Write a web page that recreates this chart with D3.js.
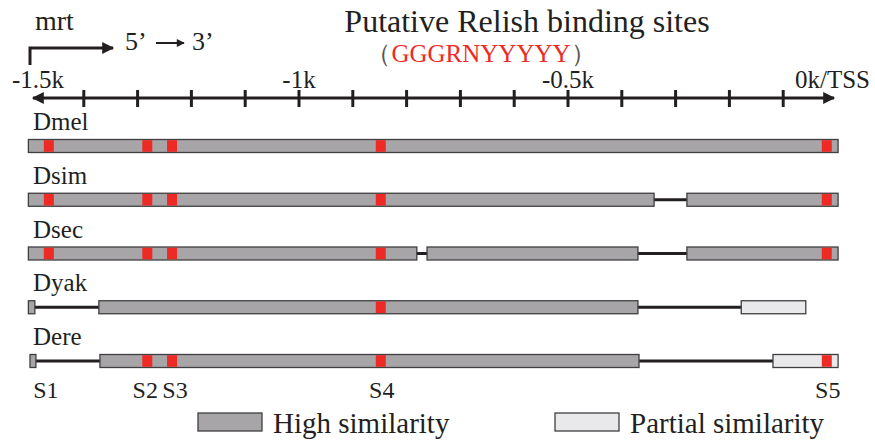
<!DOCTYPE html>
<html>
<head>
<meta charset="utf-8">
<title>Putative Relish binding sites</title>
<style>
html, body {
  margin: 0;
  padding: 0;
  background: #fff;
}
svg, svg text {
  font-family: "Liberation Serif", "DejaVu Serif", "Times New Roman", serif;
  fill: #231f20;
}
.bar {
  stroke: #3f3f41;
  stroke-width: 1.3px;
}
.backbone {
  stroke: #231f20;
  stroke-width: 3px;
}
</style>
<script src="https://d3js.org/d3.v7.min.js"></script>
</head>
<body>
<svg width="875" height="443" font-family="Liberation Serif, DejaVu Serif, serif"></svg>
<script>

// promoter region, bp upstream of the TSS
var species = ["Dmel", "Dsim", "Dsec", "Dyak", "Dere"];

var highBlocks = [
  [[-1503, 2]],
  [[-1503, -340], [-279, 2]],
  [[-1503, -781], [-762, -370], [-279, 2]],
  [[-1503, -1491], [-1372, -370]],
  [[-1500, -1489], [-1370, -368]]
];

var partialBlocks = [
  [],
  [],
  [],
  [[-178, -58]],
  [[-119, 2]]
];

var siteNames = ["S1", "S2", "S3", "S4", "S5"];
var sitePositions = [-1465, -1282, -1236, -848, -19];

var speciesSites = [
  ["S1", "S2", "S3", "S4", "S5"],
  ["S1", "S2", "S3", "S4", "S5"],
  ["S1", "S2", "S3", "S4", "S5"],
  ["S4"],
  ["S2", "S3", "S4", "S5"]
];

var tickValues = d3.range(-1400, 0, 100);
var tickLabels = [
  {v: -1500, label: "-1.5k"},
  {v: -1000, label: "-1k"},
  {v: -500, label: "-0.5k"},
  {v: 0, label: "0k/TSS"}
];

var svg = d3.select("svg");

var x = d3.scaleLinear().domain([-1500, 0]).range([30, 837]);
var y = d3.scalePoint().domain(species).range([146, 361]);
var sitePos = {};
siteNames.forEach(function(s, i) { sitePos[s] = sitePositions[i]; });

var barH = 13;
var labelShift = {S1: -3, S2: -2, S3: 3, S4: 1, S5: 1};

// arrow heads
var defs = svg.append("defs");
defs.append("marker")
    .attr("id", "head")
    .attr("viewBox", "0 0 10 10")
    .attr("refX", 9).attr("refY", 5)
    .attr("markerWidth", 5).attr("markerHeight", 4)
    .attr("markerUnits", "strokeWidth")
    .attr("orient", "auto-start-reverse")
  .append("path")
    .attr("d", "M0,0L10,5L0,10Z")
    .attr("fill", "#231f20");

// header
svg.append("text").attr("x", 35).attr("y", 30).attr("font-size", 28).text("mrt");
svg.append("path")
    .attr("d", "M30,65V48H113")
    .attr("fill", "none")
    .attr("stroke", "#231f20")
    .attr("stroke-width", 3)
    .attr("marker-end", "url(#head)");
svg.append("text").attr("x", 125).attr("y", 50).attr("font-size", 26).text("5’");
svg.append("line")
    .attr("x1", 156).attr("x2", 184).attr("y1", 43).attr("y2", 43)
    .attr("stroke", "#231f20").attr("stroke-width", 2)
    .attr("marker-end", "url(#head)");
svg.append("text").attr("x", 192).attr("y", 50).attr("font-size", 26).text("3’");

svg.append("text")
    .attr("x", 527).attr("y", 32)
    .attr("text-anchor", "middle")
    .attr("font-size", 32)
    .text("Putative Relish binding sites");

var motif = svg.append("text")
    .attr("x", 481).attr("y", 62)
    .attr("text-anchor", "middle")
    .attr("font-size", 25);
motif.append("tspan").style("fill", "#555").text("（");
motif.append("tspan").style("fill", "#ee2a24").text("GGGRNYYYYY");
motif.append("tspan").style("fill", "#555").text("）");

// axis
var axisY = 98;
svg.append("line")
    .attr("x1", x(-1500) + 3).attr("x2", x(0) - 3)
    .attr("y1", axisY).attr("y2", axisY)
    .attr("stroke", "#231f20").attr("stroke-width", 3)
    .attr("marker-start", "url(#head)")
    .attr("marker-end", "url(#head)");

svg.selectAll(".tick")
  .data(tickValues)
  .enter().append("line")
    .attr("class", "tick")
    .attr("x1", function(d) { return x(d); })
    .attr("x2", function(d) { return x(d); })
    .attr("y1", axisY - 8).attr("y2", axisY + 9)
    .attr("stroke", "#231f20").attr("stroke-width", 3);

svg.selectAll(".tlabel")
  .data(tickLabels)
  .enter().append("text")
    .attr("class", "tlabel")
    .attr("x", function(d, i) {
      if (i === 0) return x(d.v) - 18;
      if (i === tickLabels.length - 1) return x(d.v) + 33;
      return x(d.v);
    })
    .attr("y", 88)
    .attr("font-size", 25)
    .attr("text-anchor", function(d, i) {
      return i === 0 ? "start" : (i === tickLabels.length - 1 ? "end" : "middle");
    })
    .text(function(d) { return d.label; });

// rows
var rows = svg.selectAll(".row")
  .data(species)
  .enter().append("g")
    .attr("class", "row")
    .attr("transform", function(d) { return "translate(0," + y(d) + ")"; });

rows.append("text")
    .attr("x", 33).attr("y", -16)
    .attr("font-size", 25)
    .text(function(d) { return d; });

rows.append("line")
    .attr("class", "backbone")
    .attr("x1", function(d, i) {
      var all = highBlocks[i].concat(partialBlocks[i]);
      return x(d3.min(all, function(b) { return b[0]; }));
    })
    .attr("x2", function(d, i) {
      var all = highBlocks[i].concat(partialBlocks[i]);
      return x(d3.max(all, function(b) { return b[1]; }));
    });

rows.selectAll(".high")
  .data(function(d, i) { return highBlocks[i]; })
  .enter().append("rect")
    .attr("class", "bar high")
    .attr("x", function(b) { return x(b[0]); })
    .attr("width", function(b) { return x(b[1]) - x(b[0]); })
    .attr("y", -barH / 2).attr("height", barH)
    .attr("fill", "#a7a5a8");

rows.selectAll(".partial")
  .data(function(d, i) { return partialBlocks[i]; })
  .enter().append("rect")
    .attr("class", "bar partial")
    .attr("x", function(b) { return x(b[0]); })
    .attr("width", function(b) { return x(b[1]) - x(b[0]); })
    .attr("y", -barH / 2).attr("height", barH)
    .attr("fill", "#e9e9eb");

rows.selectAll(".site")
  .data(function(d, i) { return speciesSites[i]; })
  .enter().append("rect")
    .attr("class", "site")
    .attr("x", function(s) { return x(sitePos[s]) - 5; })
    .attr("width", 10)
    .attr("y", -barH / 2 + 0.7).attr("height", barH - 1.4)
    .attr("fill", "#ee2a24");

// site labels
svg.selectAll(".slabel")
  .data(siteNames)
  .enter().append("text")
    .attr("class", "slabel")
    .attr("x", function(s) { return x(sitePos[s]) + labelShift[s]; })
    .attr("y", 398)
    .attr("text-anchor", "middle")
    .attr("font-size", 24)
    .text(function(s) { return s; });

// legend
var legend = [
  {label: "High similarity", fill: "#a7a5a8", x: 198},
  {label: "Partial similarity", fill: "#e9e9eb", x: 555}
];
var lg = svg.selectAll(".legend")
  .data(legend)
  .enter().append("g")
    .attr("class", "legend")
    .attr("transform", function(d) { return "translate(" + d.x + ",0)"; });
lg.append("rect")
    .attr("class", "bar")
    .attr("y", 413).attr("width", 64).attr("height", 18)
    .attr("fill", function(d) { return d.fill; });
lg.append("text")
    .attr("x", 75).attr("y", 433)
    .attr("font-size", 29)
    .text(function(d) { return d.label; });

</script>
</body>
</html>
